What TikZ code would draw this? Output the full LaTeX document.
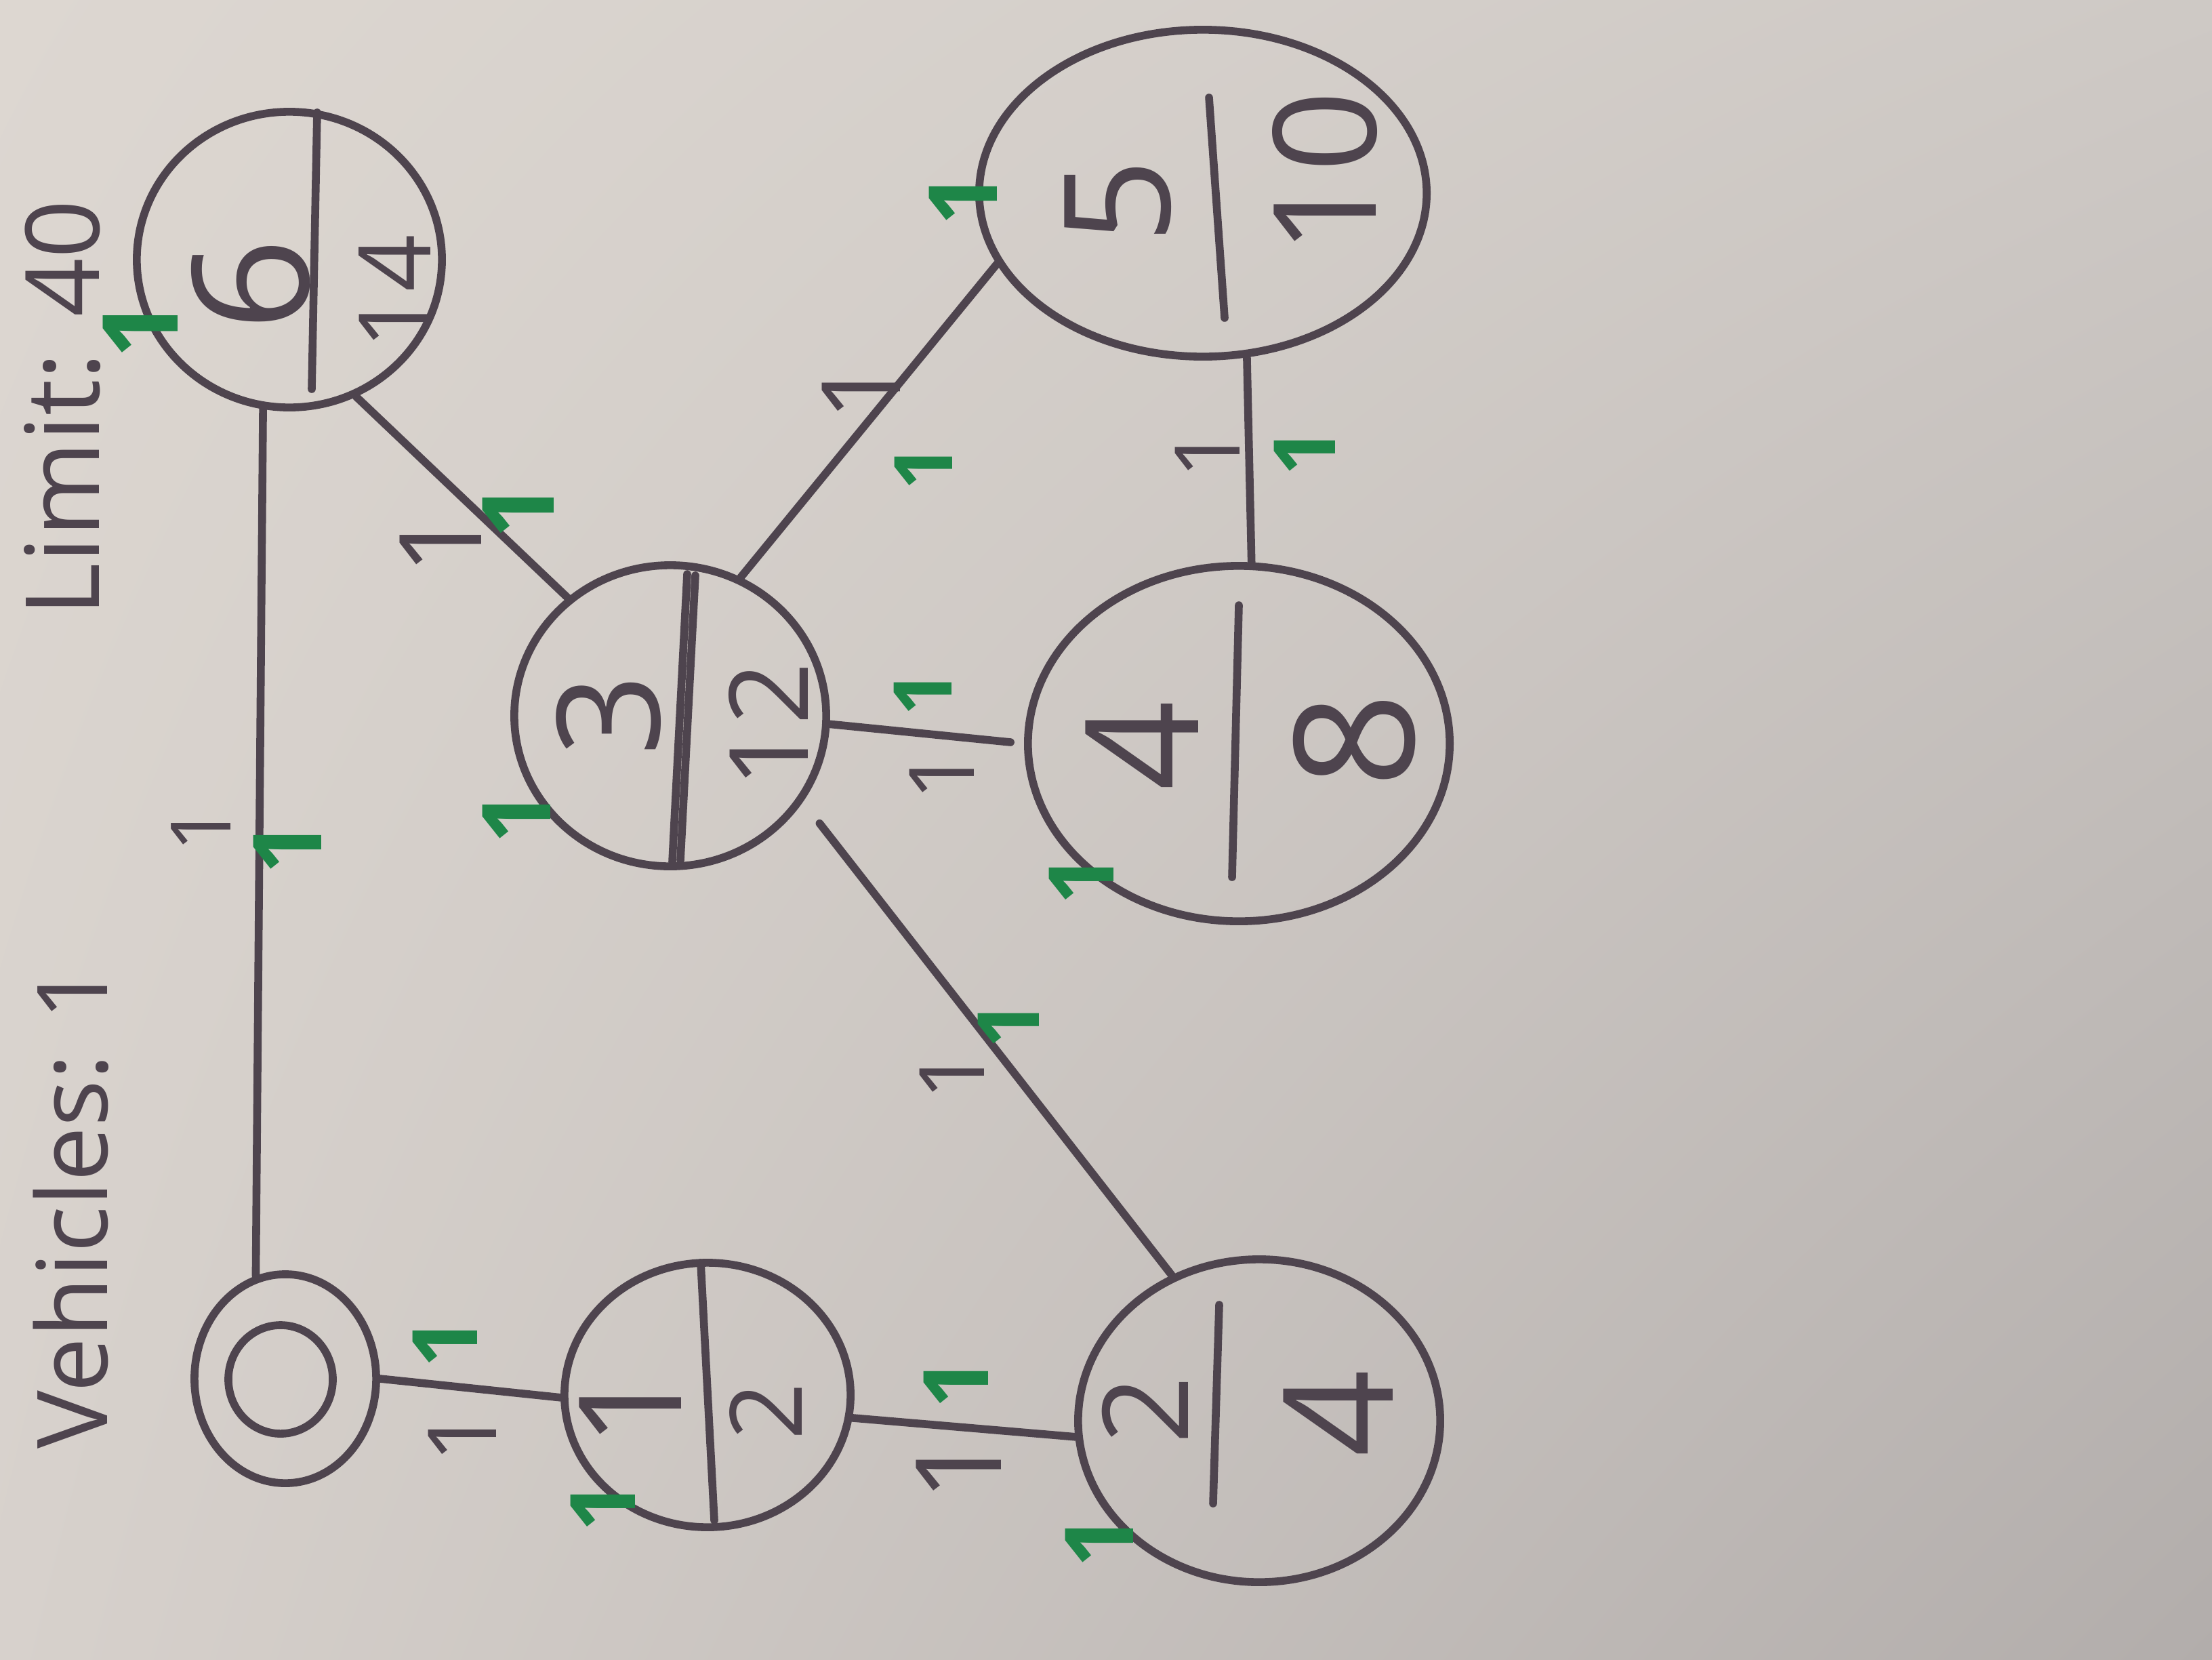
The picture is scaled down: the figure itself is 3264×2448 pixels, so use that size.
\documentclass[tikz,border=0pt]{standalone}
\usepackage{fontspec}
\setmainfont{Open Sans}
\usetikzlibrary{shapes.geometric,shadings}
\definecolor{ink}{RGB}{78,68,78}
\definecolor{marker}{RGB}{30,134,72}
\definecolor{paperUL}{RGB}{221,215,209}
\definecolor{paperLL}{RGB}{215,209,204}
\definecolor{paperUR}{RGB}{206,201,197}
\definecolor{paperLR}{RGB}{178,173,171}
\begin{document}
\begin{tikzpicture}[x=0.01cm,y=-0.01cm,
  city/.style={ellipse, draw=ink, line width=3.3pt, inner sep=0pt},
  wire/.style={draw=ink, line width=3.3pt, line cap=round},
  dig/.style={rotate=90, text=ink, inner sep=0pt, font=\fontsize{#1}{#1}\selectfont},
  cost/.style={rotate=90, text=ink, inner sep=0pt, font=\fontsize{#1}{#1}\selectfont},
  tick/.style={rotate=90, text=marker, inner sep=0pt, font=\bfseries\fontsize{#1}{#1}\selectfont}]
\useasboundingbox (0,0) rectangle (3264,2448);
% paper
\shade[upper left=paperUL, upper right=paperUR, lower left=paperLL, lower right=paperLR]
  (0,0) rectangle (3264,2448);

% headings
\node[dig=41] (veh) at (105,1780) {Vehicles: 1};
\node[dig=43] (lim) at (92,602) {Limit: 40};

% depot (double ring)
\node[city, minimum width=2.68cm, minimum height=3.08cm] (n0) at (421,2034) {};
\node[city, minimum width=1.54cm, minimum height=1.60cm] (n0in) at (414,2035) {};

% customers
\node[city, minimum width=4.22cm, minimum height=3.90cm] (n1) at (1044,2058) {};
\node[city, minimum width=5.34cm, minimum height=4.76cm] (n2) at (1858,2096) {};
\node[city, minimum width=4.60cm, minimum height=4.44cm] (n3) at (989,1056) {};
\node[city, minimum width=6.22cm, minimum height=5.24cm] (n4) at (1828,1097) {};
\node[city, minimum width=6.60cm, minimum height=4.82cm] (n5) at (1775,285) {};
\node[city, minimum width=4.50cm, minimum height=4.36cm] (n6) at (427,383) {};

% fraction bars
\draw[wire] (1034,1863) -- (1054,2243);
\draw[wire] (1799,1925) -- (1790,2218);
\draw[wire] (1014,847) -- (992,1271);
\draw[wire] (1026,849) -- (1004,1269);
\draw[wire] (1828,893) -- (1818,1294);
\draw[wire] (1784,144) -- (1807,469);
\draw[wire] (468,166) -- (460,574);

% numbers in the nodes
\node[dig=60] (n1a) at (930,2075) {1};
\node[dig=42] (n1b) at (1130,2082) {2};
\node[dig=50] (n2a) at (1690,2080) {2};
\node[dig=64] (n2b) at (1975,2085) {4};
\node[dig=60] (n3a) at (898,1055) {3};
\node[dig=46] (n3b) at (1134,1070) {12};
\node[dig=66] (n4a) at (1685,1100) {4};
\node[dig=70] (n4b) at (1999,1092) {8};
\node[dig=62] (n5a) at (1650,297) {5};
\node[dig=60] (n5b) at (1955,255) {10};
\node[dig=68] (n6a) at (370,420) {6};
\node[dig=42] (n6b) at (582,431) {14};

% roads
\draw[wire] (n0.106) -- (n6.260);
\draw[wire] (n0.0) -- (n1.181);
\draw[wire] (n1.-9) -- (n2.185);
\draw[wire, shorten <=4mm] (n3.-33.6) -- (n2.121);
\draw[wire, shorten >=2mm] (n3.-3) -- (n4.180);
\draw[wire] (n3.63) -- (n5.199);
\draw[wire] (n3.131) -- (n6.-64);
\draw[wire] (n4.86) -- (n5.-75);

% road costs
\node[cost=35] (c06) at (297,1222) {1};
\node[cost=40] (c01) at (682,2118) {1};
\node[cost=50] (c12) at (1415,2165) {1};
\node[cost=38] (c23) at (1405,1585) {1};
\node[cost=38] (c34) at (1390,1143) {1};
\node[cost=46] (c35) at (1271,575) {1};
\node[cost=38] (c45) at (1782,668) {1};
\node[cost=48] (c36) at (650,800) {1};

% green marks on roads
\node[tick=40] (g06) at (424,1250) {1};
\node[tick=38] (g01) at (657,1980) {1};
\node[tick=38] (g12) at (1411,2040) {1};
\node[tick=36] (g23) at (1488,1511) {1};
\node[tick=34] (g34) at (1362,1022) {1};
\node[tick=34] (g35) at (1363,689) {1};
\node[tick=36] (g45) at (1925,666) {1};
\node[tick=42] (g36) at (765,753) {1};

% green marks on nodes
\node[tick=38] (gn1) at (890,2222) {1};
\node[tick=40] (gn2) at (1622,2273) {1};
\node[tick=40] (gn3) at (762,1205) {1};
\node[tick=38] (gn4) at (1596,1297) {1};
\node[tick=40] (gn5) at (1421,293) {1};
\node[tick=44] (gn6) at (207,485) {1};
\end{tikzpicture}
\end{document}
